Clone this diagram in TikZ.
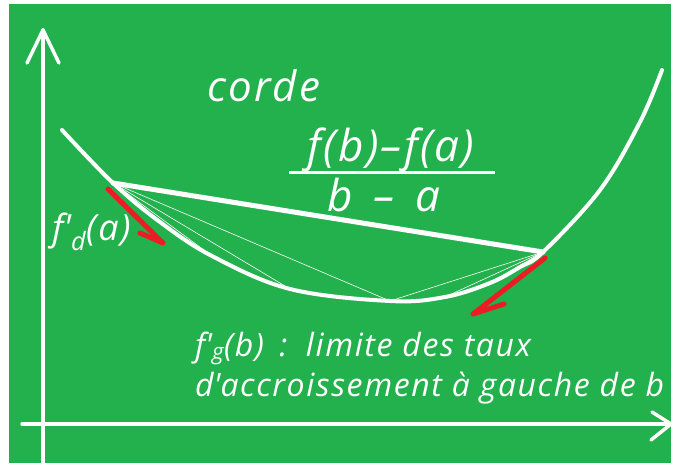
\documentclass[tikz,border=0pt]{standalone}
\usepackage{fontspec}
\setmainfont{Open Sans}[LetterSpace=5]
\usetikzlibrary{positioning}
\definecolor{boardgreen}{RGB}{34,177,76}
\definecolor{markred}{RGB}{237,28,36}
\tikzset{
  axisline/.style={white, line width=3.5pt, line cap=round, line join=round},
  curveline/.style={white, line width=4pt, line cap=round},
  chordline/.style={white, line width=5pt, line cap=round},
  secant/.style={white, line width=0.6pt},
  redmark/.style={markred, line width=5pt, line cap=round, line join=round},
  chalktext/.style={white, inner sep=0pt, font=\itshape\fontsize{#1}{#1}\selectfont},
  chalktext/.default=32,
}

\begin{document}
\begin{tikzpicture}[x=1pt, y=-1pt]
        \useasboundingbox (0,0) rectangle (676,463);
        \fill[white] (0,0) rectangle (676,463);
        \fill[boardgreen] (9,4) rectangle (671,463);

        % axes
        \coordinate (ybot) at (43,463);
        \coordinate (ytip) at (43,30);
        \coordinate (yl) at (27,63);
        \coordinate (yr) at (59,63);
        \coordinate (xleft) at (22,424);
        \coordinate (xtip) at (671,424);
        \coordinate (xu) at (652,412);
        \coordinate (xd) at (651,440);
        \draw[axisline] (ybot) -- (ytip);
        \draw[axisline] (yl) -- (ytip) -- (yr);
        \draw[axisline] (xleft) -- (xtip);
        \draw[axisline] (xu) -- (xtip) -- (xd);

        % points on the curve
        \coordinate (c0) at (62,130);
        \coordinate (a) at (113,183);
        \coordinate (c2) at (160,222);
        \coordinate (c3) at (212,256);
        \coordinate (c4) at (290,289);
        \coordinate (m) at (390,301);
        \coordinate (c6) at (445,297);
        \coordinate (c7) at (490,283);
        \coordinate (c8) at (520,267);
        \coordinate (b) at (543,252);
        \coordinate (c9) at (600,190);
        \coordinate (c10) at (640,122);
        \coordinate (c11) at (662,70);
        \draw[curveline] plot[smooth, tension=0.6] coordinates
             {(c0) (a) (c2) (c3) (c4) (m) (c6) (c7) (c8) (b) (c9) (c10) (c11)};

        % secants towards a and b
        \foreach \p in {c2,c3,c4,m}
          \draw[secant] (a) -- (\p);
        \foreach \p in {m,c6,c7,c8}
          \draw[secant] (b) -- (\p);
        \draw[chordline] (a) -- (b);

        % half tangents
        \coordinate (ra0) at (108,189);
        \coordinate (ra1) at (163,243);
        \coordinate (ra2) at (140,233);
        \draw[redmark] (ra0) -- (ra1) -- (ra2);
        \coordinate (rb0) at (545,258);
        \coordinate (rb1) at (473,314);
        \coordinate (rb2) at (504,304);
        \draw[redmark] (rb0) -- (rb1) -- (rb2);

        % labels
        \node[chalktext=42, anchor=base west] (corde) at (207,101) {corde};
        \node[chalktext=44, anchor=base] (num) at (391,161) {f(b)–f(a)};
        \coordinate (barl) at (289,172);
        \coordinate (barr) at (495,172);
        \draw[white, line width=3pt] (barl) -- (barr);
        \node[chalktext=44, anchor=base] (den) at (384,211) {b \,–\, a};
        \node[chalktext=36, anchor=base west] (fda) at (52,240)
             {f\textquotesingle\textsubscript{d}(a)};
        \node[chalktext=32, anchor=base west] (fgb) at (195,356)
             {f\textquotesingle\textsubscript{g}(b) \,:\, limite des taux};
        \node[chalktext=32, anchor=base west] (taux) at (195,396)
             {d\textquotesingle accroissement à gauche de b};
      \end{tikzpicture}
\end{document}
